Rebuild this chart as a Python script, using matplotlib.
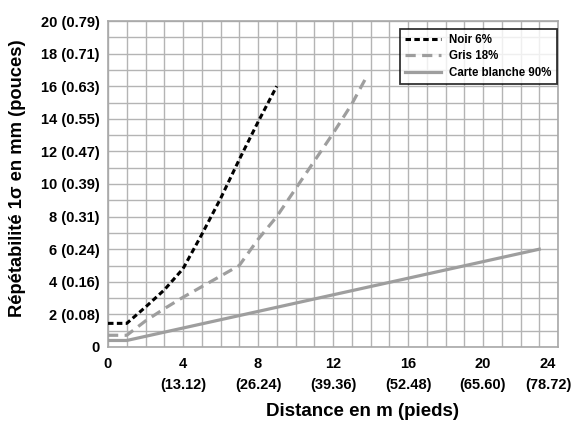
import matplotlib
matplotlib.use("Agg")
import matplotlib.pyplot as plt
from matplotlib.transforms import ScaledTranslation
from matplotlib.ticker import MultipleLocator

FONT = ['Liberation Sans', 'DejaVu Sans']
plt.rcParams['font.family'] = FONT
plt.rcParams['font.weight'] = 'bold'

# Data (distance in m, repeatability 1 sigma in mm)
noir_x = [0, 1, 2, 3, 4, 5, 6, 7, 8, 9]
noir_y = [1.45, 1.45, 2.45, 3.5, 4.8, 6.9, 9.1, 11.5, 13.8, 16.0]

gris_x = [0, 1, 2, 3, 4, 5, 6, 7, 8, 9, 10, 11, 12, 13, 13.8]
gris_y = [0.72, 0.72, 1.6, 2.35, 3.05, 3.7, 4.35, 5.0, 6.6, 8.0, 9.7, 11.4, 13.1, 14.9, 16.6]

blanc_x = [0, 1, 23]
blanc_y = [0.4, 0.4, 6.0]

series_labels = ['Noir 6%', 'Gris 18%', 'Carte blanche 90%']

xticks = [0, 4, 8, 12, 16, 20, 24]
xtick_labels = ['0', '4\n(13.12)', '8\n(26.24)', '12\n(39.36)', '16\n(52.48)',
                '20\n(65.60)', '24\n(78.72)']
yticks = [0, 2, 4, 6, 8, 10, 12, 14, 16, 18, 20]
ytick_labels = ['0', '2 (0.08)', '4 (0.16)', '6 (0.24)', '8 (0.31)', '10 (0.39)',
                '12 (0.47)', '14 (0.55)', '16 (0.63)', '18 (0.71)', '20 (0.79)']

fig = plt.figure(figsize=(5.8, 4.24), dpi=100)
ax = fig.add_axes([108/580, 1-347/424, 450/580, 326/424])

GRAY = '#9e9e9e'
ax.plot(noir_x, noir_y, color='black', lw=2.2, dashes=(1.8, 1.1), label=series_labels[0],
        dash_capstyle='butt', zorder=3)
ax.plot(gris_x, gris_y, color=GRAY, lw=2.3, dashes=(3.2, 2.0), label=series_labels[1],
        dash_capstyle='butt', zorder=3)
ax.plot(blanc_x, blanc_y, color=GRAY, lw=2.3, label=series_labels[2], zorder=3)

ax.set_xlim(0, 24)
ax.set_ylim(0, 20)
ax.xaxis.set_minor_locator(MultipleLocator(1))
ax.yaxis.set_minor_locator(MultipleLocator(1))
ax.set_xticks(xticks)
ax.set_xticklabels(xtick_labels)
ax.set_yticks(yticks)
ax.set_yticklabels(ytick_labels)
ax.grid(True, which='both', color='#b4b4b4', lw=1.0, zorder=0)
ax.set_axisbelow(True)
ax.tick_params(which='both', length=0)
ax.tick_params(axis='x', pad=7, labelsize=10.5)
ax.tick_params(axis='y', pad=6, labelsize=10.5)
for lab in ax.get_xticklabels() + ax.get_yticklabels():
    lab.set_fontweight('bold')
    lab.set_linespacing(1.65)

# shift last x label left so it fits in the figure
last = ax.get_xticklabels()[-1]
last.set_transform(last.get_transform() + ScaledTranslation(-10/100, 0, fig.dpi_scale_trans))

for s in ax.spines.values():
    s.set_color('#a8a8a8')
    s.set_linewidth(1.2)

leg = ax.legend(loc='upper right', bbox_to_anchor=(0.997, 0.976), frameon=True,
                fancybox=False, edgecolor='black', fontsize=8.3, handlelength=3.1,
                handletextpad=0.7, borderpad=0.45, labelspacing=0.38, borderaxespad=0)
leg.get_frame().set_linewidth(1.3)
for t in leg.get_texts():
    t.set_fontweight('bold')

fig.text(18/580, 1-178/424, 'Répétabilité 1σ en mm (pouces)', rotation=90,
         ha='center', va='center', fontsize=13.2, fontweight='bold')
fig.text(362/580, 1-411/424, 'Distance en m (pieds)', ha='center', va='center',
         fontsize=13.5, fontweight='bold')

fig.savefig('out.png', dpi=100)
